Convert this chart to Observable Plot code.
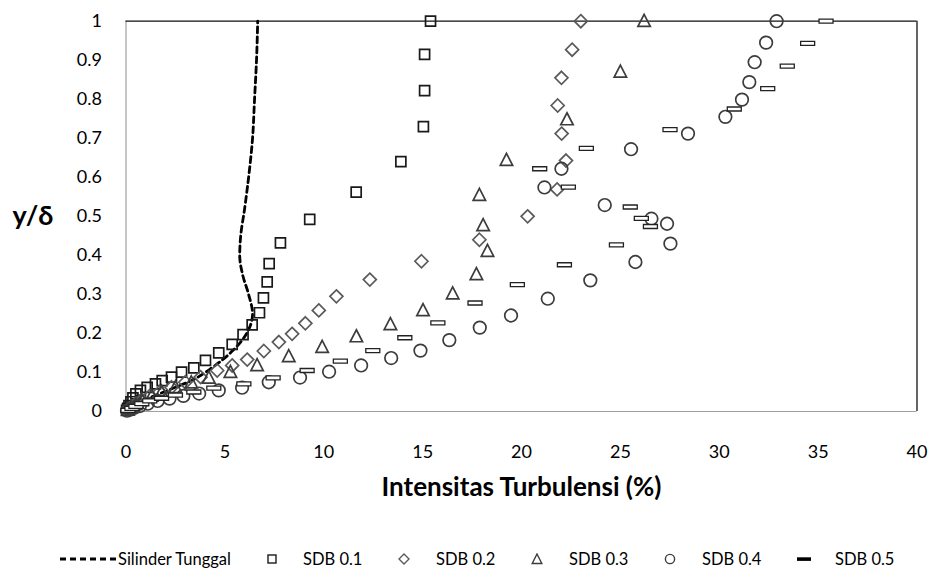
<!DOCTYPE html>
<html>
<head>
<meta charset="utf-8">
<script src="https://cdn.jsdelivr.net/npm/d3@7"></script>
<script src="https://cdn.jsdelivr.net/npm/@observablehq/plot@0.6"></script>
<style>
  html,body{margin:0;padding:0;background:#fff;}
  body{width:936px;height:569px;overflow:hidden;font-family:Lato,"Noto Sans",sans-serif;}
  #legend{position:relative;width:936px;height:49px;font-size:16.5px;color:#000;}
  .mk{position:absolute;top:38.5px;transform:translate(-50%,-50%);}
  .mk svg{display:block;}
  .tx{position:absolute;top:38.5px;transform:translateY(-50%);white-space:nowrap;line-height:18px;}
</style>
</head>
<body>
<div id="chart"></div>
<div id="legend"></div>
<script>
// ---- data ----
const xTicks = [0, 5, 10, 15, 20, 25, 30, 35, 40];
const yTicks = [0, 0.1, 0.2, 0.3, 0.4, 0.5, 0.6, 0.7, 0.8, 0.9, 1];
const seriesNames = ["Silinder Tunggal", "SDB 0.1", "SDB 0.2", "SDB 0.3", "SDB 0.4", "SDB 0.5"];

const silX = [0, 0.9, 2.1, 3.3, 4.4, 5.4, 6.1, 6.4, 6.2, 5.9, 5.75, 5.8, 6.0, 6.2, 6.4, 6.5, 6.6, 6.66];
const silY = [0, 0.028, 0.054, 0.079, 0.114, 0.156, 0.2, 0.25, 0.3, 0.35, 0.4, 0.45, 0.52, 0.6, 0.7, 0.8, 0.9, 1.0];

const sdb01X = [0.03, 0.08, 0.15, 0.25, 0.35, 0.5, 0.73, 1.07, 1.49, 1.83, 2.3, 2.81, 3.43, 4.02, 4.69, 5.37, 5.92, 6.38, 6.75, 6.95, 7.14, 7.24, 7.81, 9.29, 11.64, 13.9, 15.04, 15.1, 15.1, 15.4];
const sdb01Y = [0.003, 0.008, 0.015, 0.025, 0.035, 0.045, 0.054, 0.062, 0.071, 0.079, 0.088, 0.101, 0.112, 0.131, 0.150, 0.172, 0.197, 0.222, 0.253, 0.291, 0.332, 0.379, 0.432, 0.492, 0.562, 0.640, 0.730, 0.822, 0.915, 1.0];

const sdb02X = [0.1, 0.3, 0.5, 0.8, 1.2, 1.7, 2.3, 3.0, 3.77, 4.61, 5.37, 6.13, 6.97, 7.73, 8.40, 9.07, 9.75, 10.64, 12.33, 14.94, 17.87, 20.31, 21.8, 22.25, 22.03, 21.83, 22.02, 22.56, 23.0];
const sdb02Y = [0.005, 0.012, 0.02, 0.03, 0.04, 0.05, 0.062, 0.075, 0.088, 0.105, 0.118, 0.133, 0.155, 0.178, 0.199, 0.226, 0.259, 0.295, 0.338, 0.385, 0.44, 0.5, 0.569, 0.643, 0.712, 0.784, 0.855, 0.927, 1.0];

const sdb03X = [0.1, 0.25, 0.5, 0.8, 1.3, 1.8, 2.5, 3.3, 4.19, 5.28, 6.63, 8.23, 9.92, 11.65, 13.37, 15.02, 16.52, 17.72, 18.28, 18.06, 17.87, 19.24, 22.3, 25.0, 26.2];
const sdb03Y = [0.004, 0.01, 0.018, 0.028, 0.04, 0.05, 0.062, 0.074, 0.086, 0.101, 0.118, 0.141, 0.165, 0.192, 0.223, 0.259, 0.302, 0.351, 0.411, 0.477, 0.554, 0.644, 0.748, 0.870, 1.0];

const sdb04X = [0.05, 0.2, 0.4, 0.7, 1.1, 1.6, 2.2, 2.9, 3.7, 4.69, 5.87, 7.22, 8.8, 10.27, 11.89, 13.41, 14.89, 16.35, 17.89, 19.47, 21.33, 23.48, 25.76, 27.53, 27.36, 26.57, 24.21, 21.16, 22.02, 25.54, 28.42, 30.31, 31.15, 31.52, 31.79, 32.37, 32.9];
const sdb04Y = [0.002, 0.005, 0.009, 0.014, 0.02, 0.027, 0.033, 0.04, 0.046, 0.054, 0.061, 0.075, 0.087, 0.102, 0.118, 0.137, 0.156, 0.183, 0.215, 0.246, 0.289, 0.336, 0.383, 0.430, 0.481, 0.494, 0.529, 0.574, 0.622, 0.672, 0.712, 0.755, 0.799, 0.844, 0.895, 0.945, 1.0];

const sdb05X = [0.1, 0.3, 0.5, 0.8, 1.2, 1.8, 2.5, 3.43, 4.44, 5.96, 7.44, 9.16, 10.84, 12.48, 14.1, 15.77, 17.65, 19.79, 22.17, 24.8, 26.52, 26.06, 25.5, 22.37, 20.92, 23.28, 27.51, 30.76, 32.45, 33.44, 34.47, 35.4];
const sdb05Y = [0.003, 0.008, 0.013, 0.02, 0.027, 0.034, 0.042, 0.05, 0.06, 0.071, 0.086, 0.105, 0.129, 0.156, 0.189, 0.227, 0.278, 0.325, 0.376, 0.427, 0.474, 0.495, 0.524, 0.575, 0.622, 0.674, 0.722, 0.775, 0.827, 0.885, 0.943, 1.0];

// ---- build ----
const zip = (xs, ys) => xs.map((x, i) => ({x, y: ys[i]}));
const sil = zip(silX, silY);
const s1 = zip(sdb01X, sdb01Y), s2 = zip(sdb02X, sdb02Y), s3 = zip(sdb03X, sdb03Y), s4 = zip(sdb04X, sdb04Y), s5 = zip(sdb05X, sdb05Y);

const symSquare = {draw(c){ c.rect(-5, -5, 10, 10); }};
const symDiamond = {draw(c){ c.moveTo(0, -6.5); c.lineTo(6.5, 0); c.lineTo(0, 6.5); c.lineTo(-6.5, 0); c.closePath(); }};
const symTriangle = {draw(c){ c.moveTo(0, -6.8); c.lineTo(6.2, 5.2); c.lineTo(-6.2, 5.2); c.closePath(); }};
const symCircle = {draw(c){ c.moveTo(6.3, 0); c.arc(0, 0, 6.3, 0, 2 * Math.PI); c.closePath(); }};
const symDash = {draw(c){ c.rect(-7, -2, 14, 4); }};

const chart = Plot.plot({
  width: 936,
  height: 520,
  marginTop: 20.7,
  marginBottom: 109,
  marginLeft: 125.5,
  marginRight: 19.5,
  style: {fontFamily: "Lato, 'Noto Sans', sans-serif", fontSize: "18px", color: "#000", background: "#fff"},
  x: {domain: [0, 40]},
  y: {domain: [0, 1]},
  marks: [
    Plot.ruleY([0], {stroke: "#a0a0a0", strokeWidth: 1.2}),
    Plot.ruleX([0], {stroke: "#a0a0a0", strokeWidth: 1.2}),
    Plot.ruleY([1], {stroke: "#111", strokeWidth: 1.3}),
    Plot.ruleX([40], {stroke: "#111", strokeWidth: 1.3}),
    Plot.axisX({ticks: xTicks, tickSize: 0, tickPadding: 34, label: null, tickFormat: d => String(d)}),
    Plot.axisY({ticks: yTicks, tickSize: 0, tickPadding: 24, label: null, tickFormat: d => String(+d.toFixed(1))}),
    Plot.line(sil, {x: "x", y: "y", curve: "monotone-y", stroke: "#000", strokeWidth: 2.8, strokeDasharray: "6,4"}),
    Plot.dot(s1, {x: "x", y: "y", symbol: symSquare, fill: "none", stroke: "#1a1a1a", strokeWidth: 1.7}),
    Plot.dot(s2, {x: "x", y: "y", symbol: symDiamond, fill: "none", stroke: "#5a5a5a", strokeWidth: 1.7}),
    Plot.dot(s3, {x: "x", y: "y", symbol: symTriangle, fill: "none", stroke: "#3c3c3c", strokeWidth: 1.7}),
    Plot.dot(s4, {x: "x", y: "y", symbol: symCircle, fill: "none", stroke: "#3c3c3c", strokeWidth: 1.7}),
    Plot.dot(s5, {x: "x", y: "y", symbol: symDash, fill: "#fff", stroke: "#222", strokeWidth: 1.3}),
    Plot.text(["y/δ"], {frameAnchor: "left", dx: -93, fontSize: 27, fontWeight: "bold", textAnchor: "middle", fill: "#000"}),
    Plot.text(["Intensitas Turbulensi (%)"], {frameAnchor: "bottom", dy: 84, fontSize: 26, fontWeight: "bold", textAnchor: "middle", fill: "#000"})
  ]
});
document.getElementById("chart").appendChild(chart);

// ---- legend ----
const legend = document.getElementById("legend");
const legendMarks = [
  `<svg width="58" height="10"><line x1="1" y1="5" x2="57" y2="5" stroke="#000" stroke-width="2.8" stroke-dasharray="6,4"/></svg>`,
  `<svg width="12" height="12"><rect x="2" y="2" width="8" height="8" fill="none" stroke="#1a1a1a" stroke-width="1.4"/></svg>`,
  `<svg width="12" height="12"><path d="M6,1L11,6L6,11L1,6Z" fill="none" stroke="#5a5a5a" stroke-width="1.4"/></svg>`,
  `<svg width="12" height="12"><path d="M6,1L10.8,10.5L1.2,10.5Z" fill="none" stroke="#3c3c3c" stroke-width="1.4"/></svg>`,
  `<svg width="12" height="12"><circle cx="6" cy="6" r="4.6" fill="none" stroke="#3c3c3c" stroke-width="1.4"/></svg>`,
  `<svg width="16" height="12"><rect x="1" y="4.3" width="14" height="3.6" fill="#000"/></svg>`
];
const markCenter = [88, 272, 404, 537, 670, 804];
const textLeft = [118, 303, 436, 569, 702, 835];
seriesNames.forEach((name, i) => {
  const m = document.createElement("div");
  m.className = "mk";
  m.style.left = markCenter[i] + "px";
  m.innerHTML = legendMarks[i];
  legend.appendChild(m);
  const t = document.createElement("div");
  t.className = "tx";
  t.style.left = textLeft[i] + "px";
  t.textContent = name;
  legend.appendChild(t);
});
</script>
</body>
</html>
